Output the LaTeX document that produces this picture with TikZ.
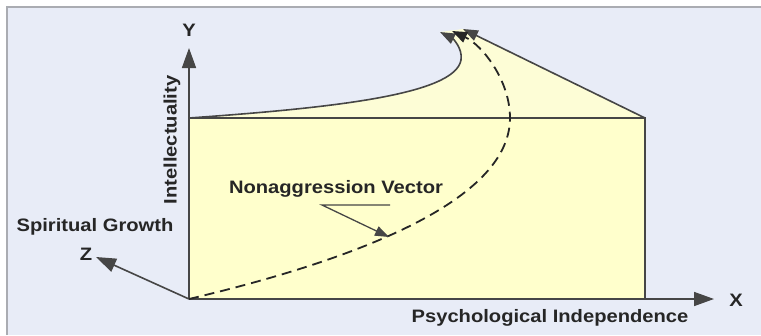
\documentclass[tikz,border=0pt]{standalone}
\usepackage{fontspec}
\setmainfont{Liberation Sans}[FakeStretch=1.12]
\usetikzlibrary{arrows.meta}
\definecolor{paneblue}{RGB}{232,236,247}
\definecolor{paneline}{RGB}{170,172,178}
\definecolor{faceyellow}{RGB}{255,255,204}
\definecolor{topyellow}{RGB}{253,253,214}
\definecolor{inkgray}{RGB}{70,70,70}

\begin{document}
\begin{tikzpicture}[x=1pt, y=-1pt,
  font=\fontsize{18}{20}\selectfont\bfseries,
  >={Triangle[length=15pt,width=11pt]},
  lbl/.style={inner sep=0pt, text=black!85},
  edge/.style={draw=inkgray, line width=1.6pt},
  arr/.style={->, draw=inkgray, line width=1.6pt},
  axis/.style={-{Triangle[length=20pt,width=14pt]}, draw=inkgray, line width=1.6pt},
  dasharr/.style={->, draw=black!85, line width=1.8pt, dash pattern=on 10pt off 6pt}]
  \useasboundingbox (0,0) rectangle (761,335);
  \fill[white] (0,0) rectangle (761,335);
  \fill[paneblue] (7,7) rectangle (761,335);
  \draw[paneline, line width=1.2pt] (7,335) -- (7,7) -- (761,7);

  \coordinate (O)  at (189,299);
  \coordinate (TL) at (189,118);
  \coordinate (TR) at (645,118);
  \coordinate (BR) at (645,299);
  \coordinate (xtip) at (714,299);
  \coordinate (ytip) at (189,48);
  \coordinate (ztip) at (96,257);
  \coordinate (ctip) at (440,32);
  \coordinate (dtip) at (452,31);
  \coordinate (rtip) at (463,29);

  % top face and front face
  \fill[topyellow] (TL) .. controls (330,108) and (455,95) .. (461,60)
        .. controls (463,48) and (452,38) .. (ctip) -- (rtip) -- (TR) -- cycle;
  \fill[faceyellow] (TL) rectangle (BR);
  \draw[edge] (TL) -- (TR) -- (BR);

  % axes
  \draw[axis] (O) -- (xtip);
  \draw[axis] (O) -- (ytip);
  \draw[axis] (O) -- (ztip);

  % vectors
  \draw[arr] (TL) .. controls (330,108) and (455,95) .. (461,60)
        .. controls (463,48) and (452,38) .. (ctip);
  \draw[arr] (TR) -- (rtip);
  \draw[dasharr] (O) .. controls (320,268) and (510,210) .. (510,118)
        .. controls (510,80) and (482,45) .. (dtip);

  % labels
  \node[lbl] (xlab)   at (736,300) {X};
  \node[lbl] (ylab)   at (189,30)  {Y};
  \node[lbl] (zlab)   at (86,254)  {Z};
  \node[lbl] (spirit) at (95,227)  {Spiritual Growth};
  \node[lbl, rotate=90] (intel) at (172,140) {Intellectuality};
  \node[lbl] (psych)  at (550,318) {Psychological Independence};
  \node[lbl] (nonag)  at (336,189) {Nonaggression Vector};

  \coordinate (lead1) at (390,205);
  \coordinate (lead2) at (322,205);
  \coordinate (leadtip) at (389,237);
  \draw[arr, line width=1.3pt, >={Triangle[length=14pt,width=10pt]}] (lead1) -- (lead2) -- (leadtip);
\end{tikzpicture}
\end{document}
